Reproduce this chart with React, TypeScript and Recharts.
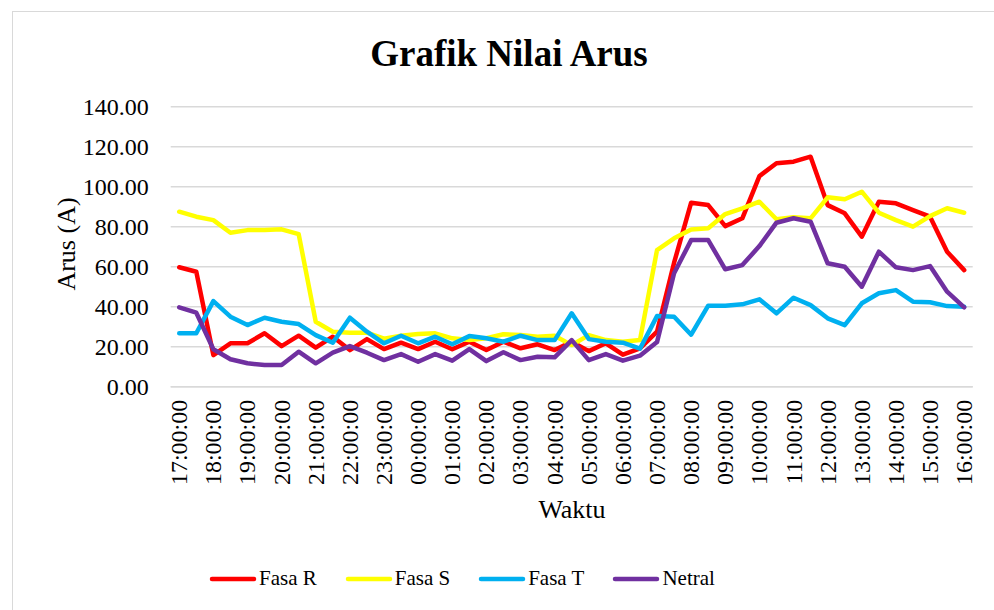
import { LineChart, Line, XAxis, YAxis, CartesianGrid, Legend } from "recharts";

const waktu = [
  "17:00:00", "17:30:00", "18:00:00", "18:30:00", "19:00:00", "19:30:00",
  "20:00:00", "20:30:00", "21:00:00", "21:30:00", "22:00:00", "22:30:00",
  "23:00:00", "23:30:00", "00:00:00", "00:30:00", "01:00:00", "01:30:00",
  "02:00:00", "02:30:00", "03:00:00", "03:30:00", "04:00:00", "04:30:00",
  "05:00:00", "05:30:00", "06:00:00", "06:30:00", "07:00:00", "07:30:00",
  "08:00:00", "08:30:00", "09:00:00", "09:30:00", "10:00:00", "10:30:00",
  "11:00:00", "11:30:00", "12:00:00", "12:30:00", "13:00:00", "13:30:00",
  "14:00:00", "14:30:00", "15:00:00", "15:30:00", "16:00:00",
];

const fasaR = [
  59.7, 57.5, 15.8, 21.7, 21.7, 26.7, 20.3, 25.5, 19.5, 25.0, 18.3, 23.8,
  18.8, 22.0, 18.8, 22.5, 18.7, 22.5, 18.3, 22.5, 19.2, 21.2, 18.3, 22.5,
  17.8, 21.7, 16.0, 19.2, 27.5, 62.0, 92.0, 90.8, 80.3, 84.2, 105.3, 111.7,
  112.5, 115.0, 90.8, 86.7, 75.0, 92.5, 91.7, 88.3, 85.0, 67.5, 58.3,
];

const fasaS = [
  87.5, 85.0, 83.3, 77.0, 78.3, 78.3, 78.7, 76.3, 32.5, 27.5, 27.0, 27.0,
  24.0, 25.5, 26.3, 26.7, 24.2, 23.3, 24.2, 26.2, 25.8, 25.0, 25.5, 20.8,
  25.8, 23.3, 22.5, 23.3, 68.3, 74.2, 78.6, 79.2, 86.3, 89.2, 92.5, 83.7,
  84.7, 84.2, 94.7, 93.7, 97.5, 87.0, 83.3, 80.0, 85.3, 89.2, 87.0,
];

const fasaT = [
  26.7, 26.7, 42.8, 35.0, 30.8, 34.5, 32.5, 31.3, 25.8, 22.0, 34.5, 27.5,
  21.7, 25.5, 21.7, 25.0, 21.2, 25.3, 24.2, 22.5, 25.5, 23.3, 23.3, 36.7,
  23.8, 22.5, 22.0, 19.0, 35.3, 35.0, 26.0, 40.5, 40.5, 41.2, 43.7, 36.7,
  44.5, 40.8, 34.2, 30.8, 41.7, 46.7, 48.3, 42.5, 42.2, 40.3, 40.0,
];

const netral = [
  39.7, 37.0, 18.7, 13.7, 11.7, 10.8, 10.8, 17.5, 11.7, 17.0, 20.3, 17.0,
  13.3, 16.3, 12.5, 16.3, 13.0, 18.8, 12.8, 17.2, 13.3, 15.0, 14.7, 23.3,
  13.3, 16.3, 13.0, 15.5, 22.3, 56.7, 73.3, 73.3, 58.7, 60.8, 70.3, 82.0,
  84.2, 82.5, 61.7, 60.0, 50.0, 67.5, 59.7, 58.3, 60.3, 47.5, 39.7,
];

const yTicks = [0, 20, 40, 60, 80, 100, 120, 140];

const series = [
  { key: "fasaR", name: "Fasa R", color: "#FF0000" },
  { key: "fasaS", name: "Fasa S", color: "#FFFF00" },
  { key: "fasaT", name: "Fasa T", color: "#00B0F0" },
  { key: "netral", name: "Netral", color: "#7030A0" },
];

const data = waktu.map((w, i) => ({
  waktu: w,
  fasaR: fasaR[i],
  fasaS: fasaS[i],
  fasaT: fasaT[i],
  netral: netral[i],
}));

const FONT = "'Liberation Serif', 'Times New Roman', serif";

const TimeTick = (props: any) => {
  const { x, y, payload } = props;
  return (
    <text
      x={x}
      y={y}
      transform={`rotate(-90 ${x} ${y})`}
      textAnchor="end"
      dominantBaseline="central"
      fontFamily={FONT}
      fontSize={24}
      fill="#000"
    >
      {payload.value}
    </text>
  );
};

const LegendBox = () => (
  <div style={{ display: "flex", alignItems: "center", fontFamily: FONT, fontSize: 21, color: "#000" }}>
    {series.map((s) => (
      <div key={s.key} style={{ display: "flex", alignItems: "center", marginRight: 28 }}>
        <svg width={48} height={10} style={{ marginRight: 2 }}>
          <line x1={3} y1={5} x2={45} y2={5} stroke={s.color} strokeWidth={4.5} strokeLinecap="round" />
        </svg>
        <span>{s.name}</span>
      </div>
    ))}
  </div>
);

export default function App() {
  return (
    <div style={{ position: "absolute", left: 0, top: 0, width: 994, height: 610, overflow: "hidden", background: "#fff" }}>
      <div
        style={{
          position: "absolute",
          left: 12,
          top: 11,
          width: 1000,
          height: 620,
          border: "1.5px solid #D9D9D9",
        }}
      />
      <svg style={{ position: "absolute", left: 0, top: 0 }} width={994} height={100}>
        <text x={509} y={66} textAnchor="middle" fontFamily={FONT} fontWeight="bold" fontSize={37} fill="#000">
          Grafik Nilai Arus
        </text>
      </svg>
      <div style={{ position: "absolute", left: 0, top: 0 }}>
        <LineChart
          width={994}
          height={610}
          data={data}
          margin={{ top: 106.7, right: 21.3, left: 0, bottom: 0 }}
        >
          <CartesianGrid vertical={false} stroke="#D9D9D9" strokeWidth={1.5} />
          <XAxis
            dataKey="waktu"
            interval={1}
            height={223.3}
            padding={{ left: 8.53, right: 8.53 }}
            axisLine={{ stroke: "#D9D9D9", strokeWidth: 1.5 }}
            tickLine={false}
            tickMargin={7}
            tick={<TimeTick />}
            label={() => (
              <text x={572} y={518} textAnchor="middle" fontFamily={FONT} fontSize={26} fill="#000">
                Waktu
              </text>
            )}
          />
          <YAxis
            width={170.7}
            domain={[0, 140]}
            ticks={yTicks}
            axisLine={false}
            tickLine={false}
            tickMargin={16}
            tickFormatter={(v: number) => v.toFixed(2)}
            tick={{ fontFamily: FONT, fontSize: 24, fill: "#000" }}
            label={() => (
              <text
                x={75}
                y={244}
                transform="rotate(-90 75 244)"
                textAnchor="middle"
                fontFamily={FONT}
                fontSize={26}
                fill="#000"
              >
                Arus (A)
              </text>
            )}
          />
          <Legend
            layout="horizontal"
            verticalAlign="middle"
            align="center"
            wrapperStyle={{ top: 566, left: 209, width: 700, height: 28 }}
            content={() => <LegendBox />}
          />
          {series.map((s) => (
            <Line
              key={s.key}
              type="linear"
              dataKey={s.key}
              name={s.name}
              stroke={s.color}
              strokeWidth={4.5}
              strokeLinejoin="round"
              strokeLinecap="round"
              dot={false}
              activeDot={false}
              isAnimationActive={false}
            />
          ))}
        </LineChart>
      </div>
    </div>
  );
}
